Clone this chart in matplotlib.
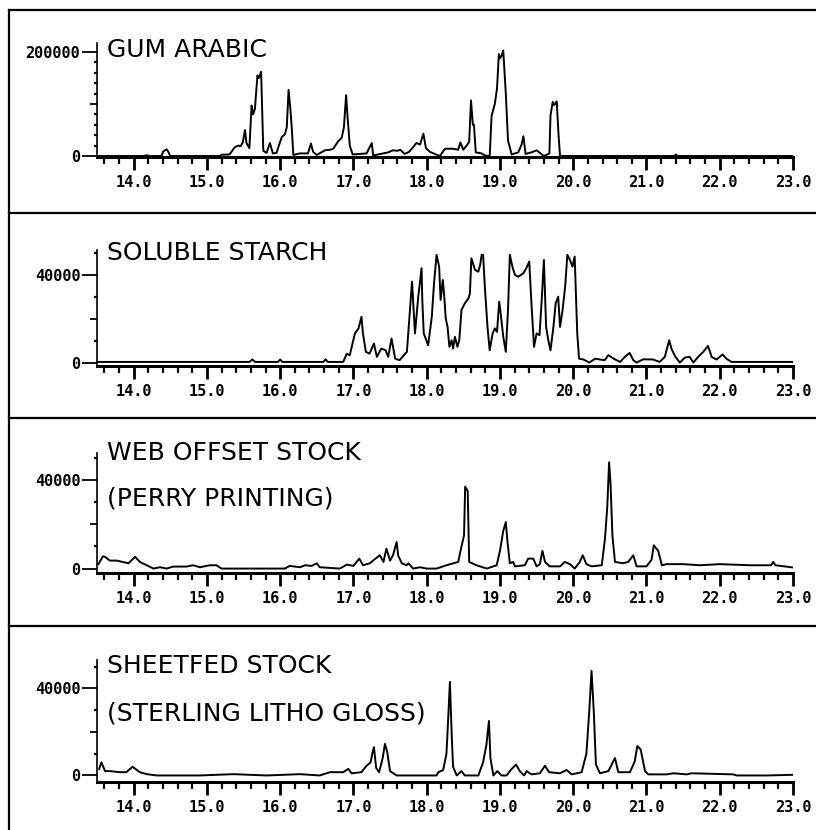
import matplotlib
matplotlib.use("Agg")
import matplotlib.pyplot as plt
from matplotlib.lines import Line2D
from matplotlib.ticker import MultipleLocator, FixedLocator, FixedFormatter, FormatStrFormatter

# retention time (min) and abundance
gum_t = [13.5, 14.13, 14.18, 14.22, 14.38, 14.405, 14.45, 14.47, 14.5, 15.18, 15.2, 15.31,
         15.38, 15.43, 15.46, 15.49, 15.52, 15.54, 15.58, 15.61, 15.63, 15.655, 15.69, 15.71,
         15.74, 15.77, 15.815, 15.86, 15.9, 15.95, 16.02, 16.065, 16.09, 16.115, 16.14, 16.16,
         16.18, 16.27, 16.38, 16.42, 16.45, 16.5, 16.61, 16.68, 16.725, 16.79, 16.84, 16.87,
         16.9, 16.92, 16.95, 16.99, 17.18, 17.25, 17.27, 17.475, 17.54, 17.6, 17.64, 17.7,
         17.76, 17.82, 17.86, 17.91, 17.955, 17.99, 18.045, 18.11, 18.18, 18.25, 18.36, 18.43,
         18.46, 18.5, 18.545, 18.58, 18.605, 18.63, 18.645, 18.67, 18.75, 18.795, 18.86, 18.886,
         18.93, 18.96, 18.985, 19.0, 19.02, 19.045, 19.08, 19.11, 19.16, 19.25, 19.295, 19.32,
         19.35, 19.43, 19.5, 19.545, 19.6, 19.675, 19.69, 19.72, 19.74, 19.775, 19.8, 19.82,
         21.38, 21.4, 21.42, 23.0]
gum_y = [0, 0, 1500, 0, 0, 9000, 12800, 9000, 0, 0, 2500, 3000,
         17000, 20000, 19000, 26000, 50000, 25000, 15000, 97000, 80000, 90000, 155000, 150000,
         162000, 10000, 6000, 25000, 5000, 6000, 36000, 42000, 55000, 127000, 90000, 50000,
         2000, 5000, 5000, 24000, 8000, 2000, 11000, 12000, 14000, 28000, 35000, 55000,
         117000, 75000, 20000, 3000, 5000, 25000, 1000, 7000, 11000, 10000, 12000, 4000,
         8000, 18000, 25000, 22000, 43000, 15000, 8000, 4000, 0, 14000, 14000, 12000,
         26000, 12000, 20000, 27000, 107000, 60000, 60000, 7000, 5000, 1000, 0, 77000,
         100000, 130000, 196000, 188000, 192000, 203000, 120000, 30000, 3000, 7000, 22000, 38000,
         4000, 7000, 11000, 6000, 0, 5000, 78000, 104000, 98000, 105000, 40000, 0,
         0, 3000, 0, 0]

starch_t = [13.5, 15.58, 15.62, 15.66, 15.97, 16.0, 16.03, 16.59, 16.62, 16.65, 16.86, 16.91,
            16.95, 17.02, 17.07, 17.11, 17.13, 17.17, 17.22, 17.28, 17.32, 17.38, 17.44, 17.475,
            17.52, 17.57, 17.63, 17.73, 17.8, 17.84, 17.885, 17.93, 17.94, 17.96, 18.02, 18.07,
            18.1, 18.135, 18.17, 18.19, 18.22, 18.24, 18.26, 18.285, 18.31, 18.34, 18.36, 18.385,
            18.42, 18.445, 18.475, 18.52, 18.57, 18.59, 18.61, 18.66, 18.705, 18.73, 18.75, 18.77,
            18.795, 18.83, 18.86, 18.9, 18.93, 18.96, 18.99, 19.01, 19.045, 19.08, 19.11, 19.135,
            19.17, 19.205, 19.25, 19.32, 19.36, 19.4, 19.43, 19.465, 19.5, 19.54, 19.57, 19.6,
            19.63, 19.66, 19.69, 19.73, 19.76, 19.795, 19.82, 19.855, 19.89, 19.92, 19.955, 19.99,
            20.02, 20.055, 20.08, 20.14, 20.22, 20.3, 20.365, 20.43, 20.48, 20.55, 20.64, 20.705,
            20.77, 20.82, 20.865, 20.955, 21.09, 21.18, 21.25, 21.31, 21.34, 21.39, 21.455, 21.525,
            21.59, 21.64, 21.705, 21.775, 21.84, 21.89, 21.955, 22.04, 22.09, 22.16, 23.0]
starch_y = [300, 300, 1400, 300, 300, 1400, 300, 300, 1500, 300, 300, 4100,
            3300, 13300, 15600, 20900, 13300, 4900, 4100, 8700, 2600, 6400, 5600, 2600,
            11000, 1800, 1100, 4900, 37000, 13300, 30100, 43100, 28600, 13300, 7900, 20900,
            36200, 49200, 43800, 28600, 37700, 30100, 20200, 16300, 7200, 10200, 6400, 11800,
            7200, 10200, 24000, 27000, 29300, 31600, 47600, 42300, 41500, 44600, 49200, 49200,
            33900, 16300, 5600, 13300, 15600, 14000, 27800, 22400, 11800, 4900, 24000, 49200,
            43800, 40000, 39200, 40800, 43100, 46100, 27000, 7200, 13300, 12500, 28600, 46900,
            16300, 10200, 5600, 16300, 27000, 30100, 16300, 24000, 34700, 49200, 46900, 43800,
            48400, 13300, 1800, 1400, 0, 1800, 1400, 1100, 3400, 1800, 300, 2600,
            4400, 1100, 0, 1500, 1400, 300, 2600, 10200, 6400, 2900, 0, 2300,
            2600, 0, 2600, 4900, 7600, 2600, 1400, 3700, 1800, 300, 300]

web_t = [13.52, 13.58, 13.61, 13.675, 13.77, 13.93, 14.02, 14.085, 14.18, 14.27, 14.36, 14.45,
         14.54, 14.72, 14.81, 14.905, 15.04, 15.13, 15.2, 15.59, 16.065, 16.13, 16.27, 16.34,
         16.43, 16.5, 16.54, 16.815, 16.91, 17.0, 17.08, 17.13, 17.225, 17.29, 17.36, 17.41,
         17.45, 17.5, 17.54, 17.59, 17.61, 17.66, 17.725, 17.75, 17.815, 17.91, 18.0, 18.135,
         18.27, 18.43, 18.475, 18.51, 18.525, 18.56, 18.58, 18.68, 18.82, 18.955, 19.0, 19.045,
         19.08, 19.1, 19.135, 19.18, 19.205, 19.34, 19.385, 19.455, 19.5, 19.545, 19.58, 19.615,
         19.68, 19.82, 19.885, 19.955, 20.02, 20.09, 20.13, 20.18, 20.25, 20.39, 20.435, 20.465,
         20.49, 20.51, 20.535, 20.57, 20.68, 20.75, 20.82, 20.865, 21.0, 21.07, 21.1, 21.16,
         21.21, 21.275, 21.5, 21.73, 22.0, 22.41, 22.7, 22.73, 22.76, 23.0]
web_y = [2000, 5500, 5300, 3600, 3600, 2400, 5300, 3000, 1500, 0, 600, 0,
         900, 900, 1500, 600, 1500, 1500, 0, 0, 0, 1200, 600, 1500,
         1200, 2400, 600, 0, 1800, 1200, 4500, 1500, 2400, 4200, 6000, 3000,
         9000, 3600, 6000, 12000, 6000, 2400, 1500, 2400, 0, 600, 0, 0,
         1500, 3000, 10000, 15000, 37000, 35000, 3000, 1500, 0, 1500, 8000, 17000,
         21000, 13000, 2400, 3000, 1000, 1500, 4500, 4500, 1000, 2000, 8000, 3000,
         1000, 1000, 3000, 2000, 0, 3000, 6000, 2000, 1000, 1500, 14000, 28000,
         48000, 38000, 15000, 3000, 2400, 3000, 6000, 1000, 1000, 4000, 10500, 8000,
         1500, 2000, 2000, 1500, 2000, 1500, 1500, 3000, 1500, 500]

sheet_t = [13.53, 13.56, 13.61, 13.675, 13.81, 13.9, 13.985, 14.085, 14.18, 14.315, 14.905, 15.36,
           15.815, 16.27, 16.54, 16.68, 16.77, 16.86, 16.93, 16.975, 17.11, 17.18, 17.235, 17.26,
           17.28, 17.31, 17.35, 17.4, 17.43, 17.46, 17.5, 17.59, 18.135, 18.16, 18.225, 18.27,
           18.295, 18.317, 18.34, 18.36, 18.41, 18.475, 18.52, 18.705, 18.77, 18.815, 18.85, 18.87,
           18.91, 18.965, 19.02, 19.09, 19.16, 19.22, 19.27, 19.33, 19.365, 19.43, 19.545, 19.615,
           19.67, 19.82, 19.91, 19.98, 20.115, 20.18, 20.22, 20.25, 20.28, 20.31, 20.365, 20.48,
           20.57, 20.615, 20.775, 20.84, 20.875, 20.92, 20.98, 21.025, 21.275, 21.365, 21.55, 21.615,
           22.185, 22.23, 22.41, 22.64, 23.0]
sheet_y = [3000, 6000, 2000, 2000, 1500, 1500, 4000, 1500, 600, 0, 0, 600,
           0, 600, 0, 1500, 1500, 1500, 3000, 1000, 1500, 4500, 6000, 10500,
           13000, 3500, 1500, 8000, 14500, 11000, 2000, 0, 0, 1500, 2500, 10000,
           27000, 43000, 20000, 4000, 0, 2000, 0, 0, 6000, 14000, 25000, 8000,
           0, 2000, 0, 0, 3000, 5000, 2000, 0, 2000, 500, 1000, 4500,
           1500, 1000, 2500, 500, 1500, 10000, 30000, 48000, 30000, 5000, 1000, 2000,
           8000, 1500, 1500, 6500, 13500, 12000, 2000, 500, 500, 1000, 500, 1000,
           500, 0, 0, 0, 300]

W, H = 816, 830
fig = plt.figure(figsize=(W / 100, H / 100), dpi=100)

# (x, y, title lines with baselines, axes top/bottom px, ylim, major y ticks, labels, minor step)
panels = [
    (gum_t, gum_y, [("GUM ARABIC", 57)], (43, 157), (-1900, 217300),
     [0, 100000, 200000], ["0", "", "200000"], 20000),
    (starch_t, starch_y, [("SOLUBLE STARCH", 260)], (250, 366), (-1560, 51400),
     [0, 20000, 40000], ["0", "", "40000"], 10000),
    (web_t, web_y, [("WEB OFFSET STOCK", 460), ("(PERRY PRINTING)", 505)], (453, 573),
     (-2000, 52200), [0, 20000, 40000], ["0", "", "40000"], 10000),
    (sheet_t, sheet_y, [("SHEETFED STOCK", 673), ("(STERLING LITHO GLOSS)", 720)], (660, 782),
     (-3000, 53000), [0, 20000, 40000], ["0", "", "40000"], 10000),
]

tick_font = dict(family="DejaVu Sans Mono", weight="bold", size=11)

for t, y, titles, (top, bot), ylim, yt, ytl, ystep in panels:
    ax = fig.add_axes([97 / W, 1 - bot / H, (793 - 97) / W, (bot - top) / H])
    ax.plot(t, y, color="black", lw=1.4)
    ax.set_xlim(13.5, 23.0)
    ax.set_ylim(*ylim)
    for s in ["top", "right"]:
        ax.spines[s].set_visible(False)
    ax.spines["bottom"].set_linewidth(2.2)
    ax.spines["left"].set_linewidth(1.2)

    ax.xaxis.set_major_locator(MultipleLocator(1))
    ax.xaxis.set_minor_locator(MultipleLocator(0.2))
    ax.xaxis.set_major_formatter(FormatStrFormatter("%.1f"))
    ax.tick_params(axis="x", which="major", length=9, width=2, pad=4)
    ax.tick_params(axis="x", which="minor", length=5, width=1.6)

    ax.yaxis.set_major_locator(FixedLocator(yt))
    ax.yaxis.set_major_formatter(FixedFormatter(ytl))
    ax.yaxis.set_minor_locator(MultipleLocator(ystep))
    ax.tick_params(axis="y", which="major", length=11, width=1.3, pad=1)
    ax.tick_params(axis="y", which="minor", length=2.5, width=1.6)
    ax.yaxis.get_major_ticks()[1].tick1line.set_markersize(5)

    for lab in ax.get_xticklabels() + ax.get_yticklabels():
        lab.set_fontproperties(tick_font)

    for txt, base in titles:
        fig.text(107 / W, 1 - base / H, txt, fontsize=18, family="DejaVu Sans",
                 va="baseline", ha="left")

# frame lines around the panels
for yy in [10, 213, 418, 626]:
    fig.add_artist(Line2D([9 / W, 1], [1 - yy / H, 1 - yy / H], color="black", lw=1.6))
fig.add_artist(Line2D([9 / W, 9 / W], [0, 1 - 10 / H], color="black", lw=1.6))

fig.savefig("out.png", dpi=100)
